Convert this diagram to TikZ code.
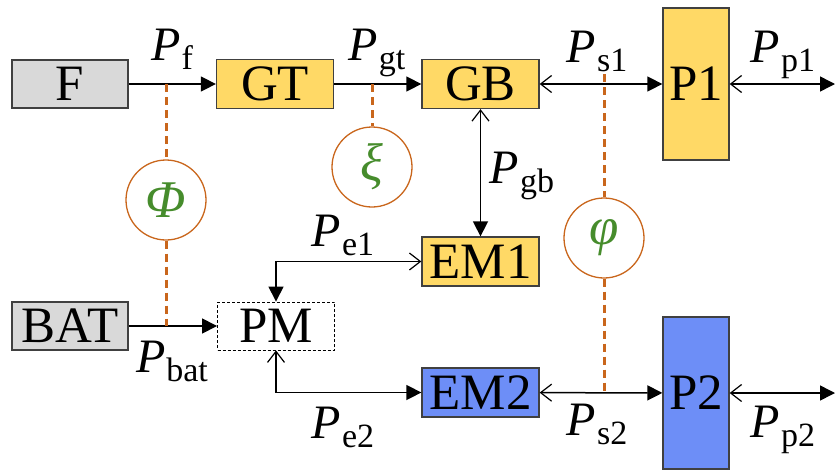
\documentclass[tikz,border=0pt]{standalone}
\usepackage{fontspec}
\setmainfont{Liberation Serif}
\usetikzlibrary{arrows.meta}

\definecolor{boxgray}{HTML}{D9D9D9}
\definecolor{boxyellow}{HTML}{FFD966}
\definecolor{boxblue}{HTML}{6D8EF7}
\definecolor{edgegray}{HTML}{404040}
\definecolor{linkorange}{HTML}{C9661C}
\definecolor{greekgreen}{HTML}{468C2C}

% power label: italic P with an upright subscript
\newcommand{\pwr}[1]{{\fontsize{48}{48}\selectfont\textit{P}\kern1pt\raisebox{-9pt}{\fontsize{34}{34}\selectfont #1}}}
\newcommand{\grk}[1]{{\fontsize{53}{53}\selectfont\color{greekgreen}\textit{#1}}}

\tikzset{
  unit/.style={draw=edgegray, line width=1.3pt, inner sep=0pt,
    font=\fontsize{51}{51}\selectfont},
  graybox/.style={unit, fill=boxgray, minimum width=116pt, minimum height=48pt},
  yellowbox/.style={unit, fill=boxyellow, minimum width=117pt, minimum height=49pt},
  bluebox/.style={unit, fill=boxblue, minimum width=117pt, minimum height=49pt},
  propbox/.style={unit, minimum width=66pt, minimum height=152pt},
  pmbox/.style={draw=black, line width=0.9pt, dash pattern=on 3pt off 2pt,
    inner sep=0pt, minimum width=117pt, minimum height=48pt,
    font=\fontsize{51}{51}\selectfont},
  ratio/.style={circle, draw=linkorange, line width=1.3pt, inner sep=0pt,
    minimum size=80pt},
  conn/.style={draw=black, line width=1.5pt},
  link/.style={draw=linkorange, line width=3pt, dash pattern=on 8pt off 5pt},
  plabel/.style={anchor=base, inner sep=0pt},
  tipF/.tip={Triangle[length=15pt,width=15pt]},
  tipO/.tip={Straight Barb[length=11pt,width=17pt,line width=1.2pt]}
}

\begin{document}
\begin{tikzpicture}[x=1pt,y=-1pt]
\useasboundingbox (0,0) rectangle (835,469);

% components
\node[graybox]   (F)   at (70,84)    {F};
\node[yellowbox] (GT)  at (275,84)   {GT};
\node[yellowbox] (GB)  at (480.5,84) {GB};
\node[propbox, fill=boxyellow] (P1) at (696,84) {P1};
\node[yellowbox] (EM1) at (480.5,261.5) {EM1};
\node[bluebox]   (EM2) at (480.5,392.5) {EM2};
\node[propbox, fill=boxblue] (P2) at (696,393) {P2};
\node[graybox]   (BAT) at (70,326)   {BAT};
\node[pmbox]     (PM)  at (276,326)  {PM};

% free ends and junctions on the power lines
\coordinate (out1) at (835,84);
\coordinate (out2) at (835,393);
\coordinate (jf)   at (166,84);
\coordinate (jb)   at (166,326);
\coordinate (jgt)  at (372,84);
\coordinate (js1)  at (604,84);
\coordinate (js2)  at (604,393);

% ratio circles
\node[ratio] (Phi) at (166,200) {\grk{Φ}};
\node[ratio] (Xi)  at (372,167) {\grk{ξ}};
\node[ratio] (vphi) at (604,238) {\grk{φ}};

% power flows
\draw[conn, -tipF] (F) -- (GT);
\draw[conn, -tipF] (GT) -- (GB);
\draw[conn, tipO-tipF] (GB) -- (P1);
\draw[conn, tipO-tipF] (P1) -- (out1);
\draw[conn, tipO-tipF] (GB) -- (EM1);
\draw[conn, -tipF] (BAT) -- (PM);
\draw[conn, tipF-tipO] (PM.north) |- (EM1.west);
\draw[conn, tipO-tipF] (PM.south) |- (EM2.west);
\draw[conn, tipO-tipF] (EM2) -- (P2);
\draw[conn, tipO-tipF] (P2) -- (out2);

% split-ratio links
\draw[link] (jf) -- (Phi);
\draw[link] (Phi) -- (jb);
\draw[link] (jgt) -- (Xi);
\draw[link] ([yshift=10pt]js1) -- (vphi);
\draw[link] (vphi) -- (js2);

% labels
\node[plabel] (lf)   at (172,60)  {\pwr{f}};
\node[plabel] (lgt)  at (377,60)  {\pwr{gt}};
\node[plabel] (ls1)  at (597,62)  {\pwr{s1}};
\node[plabel] (lp1)  at (783,62)  {\pwr{p1}};
\node[plabel] (lgb)  at (522,183) {\pwr{gb}};
\node[plabel] (le1)  at (343,246) {\pwr{e1}};
\node[plabel] (lbat) at (172,372) {\pwr{bat}};
\node[plabel] (le2)  at (343,438) {\pwr{e2}};
\node[plabel] (ls2)  at (597,435) {\pwr{s2}};
\node[plabel] (lp2)  at (783,437) {\pwr{p2}};
\end{tikzpicture}
\end{document}
